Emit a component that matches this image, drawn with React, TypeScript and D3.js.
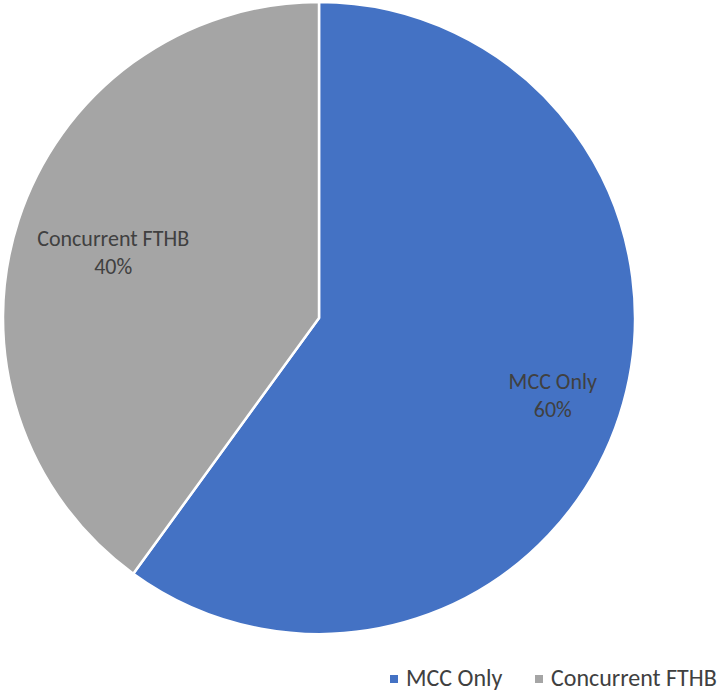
import React from "react";
import * as d3 from "d3";

const categories = ["MCC Only", "Concurrent FTHB"];
const values = [60, 40];
const colors = ["#4472C4", "#A5A5A5"];
const labelRadiusFrac = [0.778, 0.685];

export default function App() {
  const width = 719;
  const height = 692;
  const cx = 319;
  const cy = 318;
  const r = 316;
  const pie = d3.pie<number>().sort(null).value((d) => d)(values);
  const arc = d3.arc<d3.PieArcDatum<number>>().innerRadius(0).outerRadius(r);
  const font = "Carlito, Calibri, Lato, 'Open Sans', sans-serif";
  return (
    <svg
      width={width}
      height={height}
      style={{ position: "absolute", left: 0, top: 0 }}
    >
      <rect width={width} height={height} fill="#fff" />
      <g transform={`translate(${cx},${cy})`}>
        {pie.map((p, i) => (
          <path key={i} d={arc(p) || ""} fill={colors[i]} stroke="#fff" strokeWidth={2.5} strokeLinejoin="round" />
        ))}
        {pie.map((p, i) => {
          const a = (p.startAngle + p.endAngle) / 2;
          const lr = r * labelRadiusFrac[i];
          const x = Math.sin(a) * lr;
          const y = -Math.cos(a) * lr;
          return (
            <text key={i} x={x} y={y} textAnchor="middle" fill="#404040" fontFamily={font} fontSize={22}>
              <tspan x={x} dy={-5}>{categories[i]}</tspan>
              <tspan x={x} dy={28}>{values[i]}%</tspan>
            </text>
          );
        })}
      </g>
      <g>
        <rect x={390} y={675} width={8} height={8} fill={colors[0]} />
        <text x={406} y={686} fill="#404040" fontFamily={font} fontSize={24}>{categories[0]}</text>
        <rect x={535} y={675} width={8} height={8} fill={colors[1]} />
        <text x={551} y={686} fill="#404040" fontFamily={font} fontSize={24}>{categories[1]}</text>
      </g>
    </svg>
  );
}
